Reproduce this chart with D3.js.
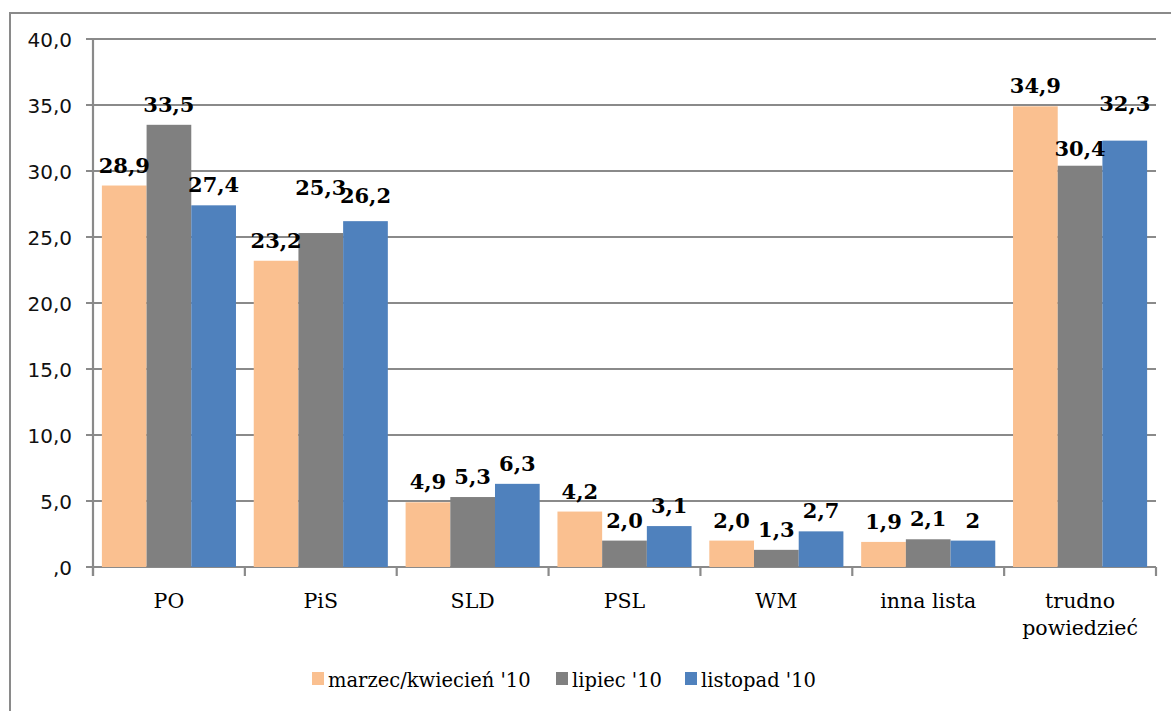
<!DOCTYPE html>
<html>
<head>
<meta charset="utf-8">
<script src="https://cdn.jsdelivr.net/npm/d3@7/dist/d3.min.js"></script>
<style>
  body { margin: 0; background: #fff; }
</style>
</head>
<body>
<svg id="chart"></svg>
<script>
// data
var categories = ["PO", "PiS", "SLD", "PSL", "WM", "inna lista", "trudno powiedzieć"];
var seriesNames = ["marzec/kwiecień '10", "lipiec '10", "listopad '10"];
var marzecValues = [28.9, 23.2, 4.9, 4.2, 2.0, 1.9, 34.9];
var lipiecValues = [33.5, 25.3, 5.3, 2.0, 1.3, 2.1, 30.4];
var listopadValues = [27.4, 26.2, 6.3, 3.1, 2.7, 2.0, 32.3];
var listopadLabels = ["27,4", "26,2", "6,3", "3,1", "2,7", "2", "32,3"];
var yTicks = [0, 5, 10, 15, 20, 25, 30, 35, 40];
var colors = ["#FAC090", "#808080", "#4F81BD"];

var width = 1171
var height = 711

var svg = d3.select("#chart")
  .attr("width", width)
  .attr("height", height);

var comma = d3.format(".1f");
function fmt(v) { return comma(v).replace(".", ","); }

// one row per category
var rows = categories.map(function(c, i) {
  return {
    category: c,
    values: [
      {s: 0, v: marzecValues[i], label: fmt(marzecValues[i])},
      {s: 1, v: lipiecValues[i], label: fmt(lipiecValues[i])},
      {s: 2, v: listopadValues[i], label: listopadLabels[i]}
    ]
  };
});

// hand moved labels in the original (pixels up)
var labelNudge = {"1|1": -25, "1|2": -5, "6|2": -17, "6|1": 3};

var plot = {left: 93, right: 1156, top: 39, bottom: 567};
var gridColor = "#8a8a8a";
var serif = "'DejaVu Serif', 'Liberation Serif', serif";

// outer frame
svg.append("rect")
  .attr("x", 10).attr("y", 13)
  .attr("width", 1300).attr("height", 900)
  .attr("fill", "none")
  .attr("stroke", gridColor)
  .attr("stroke-width", 2);

var y = d3.scaleLinear().domain([0, 40]).range([plot.bottom, plot.top]);

var x = d3.scaleBand()
  .domain(categories)
  .range([plot.left, plot.right])
  .paddingInner(0.117)
  .paddingOuter(0.0585);

var xs = d3.scaleBand()
  .domain([0, 1, 2])
  .range([0, x.bandwidth()]);

// gridlines
svg.append("g")
  .selectAll("line")
  .data(yTicks)
  .join("line")
    .attr("x1", plot.left - 7)
    .attr("x2", plot.right)
    .attr("y1", d => y(d))
    .attr("y2", d => y(d))
    .attr("stroke", gridColor)
    .attr("stroke-width", 2.2);

// y tick labels
svg.append("g")
  .selectAll("text")
  .data(yTicks)
  .join("text")
    .attr("x", 72)
    .attr("y", d => y(d) + 7.5)
    .attr("text-anchor", "end")
    .attr("font-family", "DejaVu Sans")
    .attr("font-size", 20)
    .attr("fill", "#111")
    .text(d => d == 0 ? ",0" : d3.format(".1f")(d).replace(".", ","));

// bars
var group = svg.append("g")
  .selectAll("g")
  .data(rows)
  .join("g")
    .attr("transform", d => "translate(" + x(d.category) + ",0)");

group.selectAll("rect")
  .data(d => d.values)
  .join("rect")
    .attr("x", d => xs(d.s))
    .attr("width", xs.bandwidth())
    .attr("y", d => y(d.v))
    .attr("height", d => y(0) - y(d.v))
    .attr("fill", d => colors[d.s]);

// axes lines
svg.append("line")
  .attr("x1", plot.left).attr("x2", plot.left)
  .attr("y1", plot.top - 1).attr("y2", plot.bottom + 9)
  .attr("stroke", gridColor).attr("stroke-width", 2.2);

var step = x.step();
svg.append("g")
  .selectAll("line")
  .data(d3.range(categories.length + 1))
  .join("line")
    .attr("x1", d => plot.left + d * step)
    .attr("x2", d => plot.left + d * step)
    .attr("y1", plot.bottom)
    .attr("y2", plot.bottom + 9)
    .attr("stroke", gridColor)
    .attr("stroke-width", 2.2);

// value labels
group.selectAll("text")
  .data((d, i) => d.values.map(v => Object.assign({ci: i}, v)))
  .join("text")
    .attr("x", d => xs(d.s) + xs.bandwidth() / 2)
    .attr("y", d => y(d.v) - 13 + (labelNudge[d.ci + "|" + d.s] || 0))
    .attr("text-anchor", "middle")
    .attr("font-family", serif)
    .attr("font-weight", "bold")
    .attr("font-size", 21)
    .attr("fill", "#000")
    .text(d => d.label);

// category labels, wrapped on space for the long one
var catText = svg.append("g")
  .selectAll("text")
  .data(categories)
  .join("text")
    .attr("x", d => x(d) + x.bandwidth() / 2)
    .attr("y", 608)
    .attr("text-anchor", "middle")
    .attr("font-family", serif)
    .attr("font-size", 20.5)
    .attr("fill", "#000");

catText.each(function(d) {
  var lines = d == "trudno powiedzieć" ? d.split(" ") : [d];
  var t = d3.select(this);
  lines.forEach(function(l, i) {
    t.append("tspan")
      .attr("x", x(d) + x.bandwidth() / 2)
      .attr("dy", i == 0 ? 0 : 27)
      .text(l);
  });
});

// legend
var legendX = [312, 556, 685];
var legend = svg.append("g")
  .selectAll("g")
  .data(seriesNames)
  .join("g")
    .attr("transform", (d, i) => "translate(" + legendX[i] + ",672)");

legend.append("rect")
  .attr("width", 12).attr("height", 13)
  .attr("fill", (d, i) => colors[i]);

legend.append("text")
  .attr("x", 16)
  .attr("y", 15)
  .attr("font-family", serif)
  .attr("font-size", 19.5)
  .attr("fill", "#000")
  .text(d => d);
</script>
</body>
</html>
